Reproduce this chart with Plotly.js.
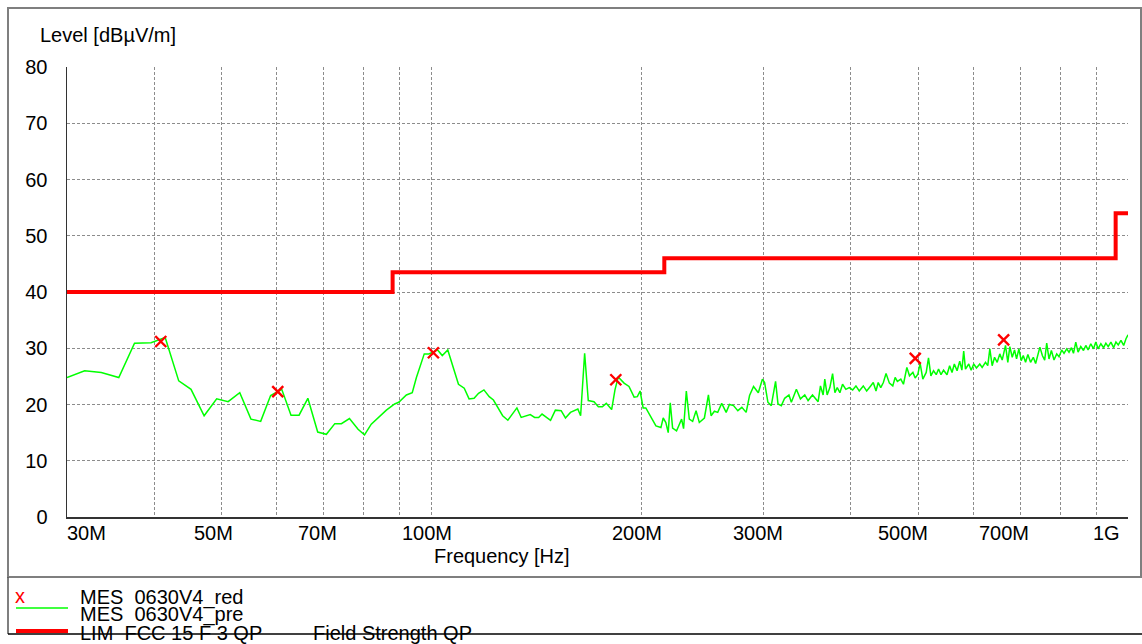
<!DOCTYPE html>
<html>
<head>
<meta charset="utf-8">
<script src="https://cdn.plot.ly/plotly-3.0.1.min.js"></script>
<style>
html,body{margin:0;padding:0;background:#fff;}
#chart{width:1142px;height:644px;}
</style>
</head>
<body>
<div id="chart"></div>
<script>
// ---- Data (frequency in MHz, level in dBµV/m) ----
const preFreq = [30.0,31.8,33.6,35.6,37.5,39.6,41.5,43.4,45.2,47.2,49.2,51.1,53.1,55.1,56.9,58.8,61.0,62.9,64.6,66.5,
68.7,70.7,72.7,74.3,76.3,78.5,80.2,82.0,86.2,88.6,89.8,92.1,93.9,95.2,97.7,99.2,102.1,103.7,105.6,109.4,
111.5,113.3,115.2,116.9,119.0,121.1,122.8,126.6,128.8,130.9,132.7,134.6,138.7,140.7,142.6,144.2,148.3,150.7,153.6,155.8,
158.4,162.3,163.8,166.0,168.0,171.2,173.7,176.0,178.3,181.5,183.5,185.5,189.1,192.2,195.5,197.6,199.4,201.4,203.2,206.6,
210.1,213.6,215.2,217.1,218.8,220.3,222.0,224.9,228.7,230.2,232.3,234.6,237.2,239.9,242.5,246.6,249.9,252.1,254.9,257.7,
261.1,265.0,267.9,271.5,275.4,279.1,283.1,286.3,290.1,294.7,298.7,300.9,304.2,307.6,312.0,314.5,318.0,321.5,326.1,328.7,
334.2,338.7,343.6,347.4,352.5,359.1,361.9,365.1,367.1,370.0,373.3,376.7,379.6,382.5,385.9,389.3,393.6,398.0,402.5,406.9,
411.4,416.9,421.6,427.2,430.9,434.8,438.0,441.7,445.5,449.5,454.5,459.6,463.2,466.7,472.0,476.1,481.5,485.7,491.2,494.9,
499.3,503.1,507.6,513.3,517.2,521.3,525.9,530.6,534.7,539.0,543.6,549.8,554.6,559.0,563.3,568.4,573.4,577.5,581.0,584.4,
590.8,595.5,600.6,606.0,612.7,617.5,624.4,629.1,633.4,638.3,643.4,649.0,654.6,659.8,667.1,672.2,676.7,682.1,687.3,691.9,
697.2,702.7,707.4,712.8,718.3,724.7,731.3,736.9,742.5,747.4,753.5,759.3,764.4,770.2,776.3,783.1,790.1,796.2,803.3,809.4,
816.7,822.9,829.5,835.1,841.5,847.9,855.5,863.2,869.8,876.4,884.3,892.3,899.1,906.0,914.2,922.5,929.5,936.6,945.1,953.6,
960.9,968.3,977.0,985.8,993.4,1000];
const preLevel = [24.8,26.0,25.7,24.8,30.9,31.0,31.9,24.2,22.7,18.0,21.0,20.5,22.1,17.4,17.0,21.6,22.7,18.1,18.1,21.1,
15.1,14.7,16.6,16.6,17.5,15.6,14.6,16.5,19.0,20.1,20.4,21.7,22.1,24.8,29.0,29.0,29.7,28.7,29.7,23.6,
22.9,21.0,21.1,22.0,22.6,21.4,20.8,18.0,17.2,18.3,19.4,17.7,18.2,17.7,17.7,18.3,17.2,19.0,18.9,17.6,
18.6,19.2,18.0,29.1,20.7,20.5,19.6,19.6,20.2,19.1,22.6,24.9,23.8,23.2,21.3,21.4,22.4,19.4,19.4,17.8,
16.2,15.9,17.6,16.8,15.0,20.3,15.8,15.3,17.4,15.7,22.4,17.4,17.0,18.9,16.8,17.6,21.7,18.0,18.8,18.6,
20.2,18.6,20.0,19.8,18.9,19.5,18.6,21.6,23.2,22.1,24.5,23.9,20.4,19.8,24.1,20.1,19.8,21.1,21.7,20.4,
22.7,21.0,21.7,20.7,21.7,20.5,23.3,21.7,24.5,21.7,23.0,25.5,22.1,23.0,22.1,23.6,22.7,23.0,22.6,23.3,
22.4,23.3,22.4,23.3,23.9,22.4,23.9,23.0,23.9,25.5,23.8,23.3,24.8,24.1,24.5,23.6,26.6,25.1,25.7,24.7,
25.4,27.3,24.5,25.7,28.3,25.1,26.0,25.3,26.3,25.3,26.1,25.3,26.9,25.7,27.2,26.0,27.7,26.1,29.5,26.3,
27.2,26.1,27.2,26.5,27.2,26.6,27.5,26.9,29.9,26.9,28.4,27.5,29.0,27.9,30.5,27.5,30.3,28.4,29.7,28.1,
29.9,27.8,28.7,27.5,28.9,27.5,28.4,27.3,29.0,30.2,28.7,27.9,30.9,28.1,29.6,27.9,29.0,28.5,29.7,29.1,
29.9,29.3,30.1,29.1,31.1,29.3,30.3,29.6,30.5,29.7,30.8,29.9,31.1,29.9,30.8,30.1,30.9,30.3,31.1,30.1,
31.1,30.6,31.4,30.5,31.7,32.4];

const redFreq  = [40.9, 60.2, 100.7, 184.0, 495.0, 663.0];
const redLevel = [31.2, 22.3, 29.2, 24.4, 28.2, 31.5];

const limFreq  = [30, 88, 216, 960, 1000];
const limLevel = [40, 43.5, 46, 54, 54];

const gridFreq = [30,40,50,60,70,80,90,100,200,300,400,500,600,700,800,900,1000];
const labelFreq = [30, 50, 70, 100, 200, 300, 500, 700, 1000];
const labelText = ['30M','50M','70M','100M','200M','300M','500M','700M','1G'];

const legendNames = ['MES\u00a0\u00a00630V4_red','MES\u00a0\u00a00630V4_pre','LIM\u00a0\u00a0FCC 15 F 3 QP'];
const limSubtitle = 'Field Strength QP';

// ---- Helpers: pixel -> paper coords ----
const L = 67, R = 14, T = 67, B = 127, W = 1142, H = 644;
const pw = W - L - R, ph = H - T - B;
const px = x => (x - L) / pw;
const py = y => (H - B - y) / ph;

const FONT = 'Liberation Sans, Arial, sans-serif';
const FS = 20;
const GRID = '#8c8c8c';

// label nudges (px) to mimic the reference's label placement
const labelShift = [19, -8, -6, -4, -4, -6, -15, -16, -22];

const traces = [
  {x: preFreq, y: preLevel, type: 'scatter', mode: 'lines',
   line: {color: '#00ff00', width: 1.5}, hoverinfo: 'skip', showlegend: false},
  {x: limFreq, y: limLevel, type: 'scatter', mode: 'lines',
   line: {color: '#ff0000', width: 4, shape: 'hv'}, hoverinfo: 'skip', showlegend: false},
  {x: redFreq, y: redLevel, type: 'scatter', mode: 'markers',
   marker: {symbol: 'x-thin', size: 11, line: {color: '#ff0000', width: 2.4}, color: '#ff0000'},
   hoverinfo: 'skip', showlegend: false}
];

const shapes = [
  {type: 'rect', xref: 'paper', yref: 'paper', x0: px(8), x1: px(1141), y0: py(577), y1: py(8),
   line: {color: '#7f7f7f', width: 2}, fillcolor: 'rgba(0,0,0,0)'},
  {type: 'line', xref: 'paper', yref: 'paper', x0: px(8), x1: px(8), y0: py(577), y1: py(634),
   line: {color: '#555', width: 1.5}},
  {type: 'line', xref: 'paper', yref: 'paper', x0: px(8), x1: px(1142), y0: py(634), y1: py(634),
   line: {color: '#000', width: 1.5}},
  {type: 'line', xref: 'paper', yref: 'paper', x0: px(16), x1: px(68), y0: py(608), y1: py(608),
   line: {color: '#00ff00', width: 1.5}},
  {type: 'line', xref: 'paper', yref: 'paper', x0: px(16), x1: px(68), y0: py(631), y1: py(631),
   line: {color: '#ff0000', width: 4}}
];

const txt = (text, x, y, anchor, color) => ({
  text: text, xref: 'paper', yref: 'paper', x: x, y: y, xanchor: anchor, yanchor: 'middle',
  showarrow: false, font: {family: FONT, size: FS, color: color || '#000'}
});

const annotations = [
  txt('Level [dBµV/m]', px(38), py(35), 'left'),
  txt('Frequency [Hz]', px(502), py(556), 'center'),
  txt('x', px(20), py(596), 'center', '#ff0000'),
  txt(legendNames[0], px(78), py(597), 'left'),
  txt(legendNames[1], px(78), py(614), 'left'),
  txt(legendNames[2], px(78), py(633), 'left'),
  txt(limSubtitle, px(311), py(633), 'left')
];
labelFreq.forEach((f, i) => {
  annotations.push({
    text: labelText[i], xref: 'x', yref: 'paper', x: Math.log10(f), y: py(533),
    xanchor: 'center', yanchor: 'middle', xshift: labelShift[i], showarrow: false,
    font: {family: FONT, size: FS, color: '#000'}
  });
});

const layout = {
  width: W, height: H,
  margin: {l: L, r: R, t: T, b: B, pad: 0},
  paper_bgcolor: '#ffffff', plot_bgcolor: '#ffffff',
  showlegend: false,
  font: {family: FONT, size: FS, color: '#000'},
  xaxis: {
    type: 'log', range: [Math.log10(30), 3],
    tickmode: 'array', tickvals: gridFreq, showticklabels: false,
    showgrid: true, gridcolor: GRID, gridwidth: 1, griddash: '3px,2px',
    showline: true, linecolor: '#333', linewidth: 2,
    ticks: '', zeroline: false
  },
  yaxis: {
    range: [0, 80], tickmode: 'linear', tick0: 0, dtick: 10,
    showgrid: true, gridcolor: GRID, gridwidth: 1, griddash: '3px,2px',
    showline: true, linecolor: '#333', linewidth: 1.5,
    ticks: '', zeroline: false, ticklabelstandoff: 14,
    tickfont: {family: FONT, size: FS, color: '#000'}
  },
  shapes: shapes,
  annotations: annotations
};

Plotly.newPlot('chart', traces, layout, {staticPlot: true, displayModeBar: false});
</script>
</body>
</html>
